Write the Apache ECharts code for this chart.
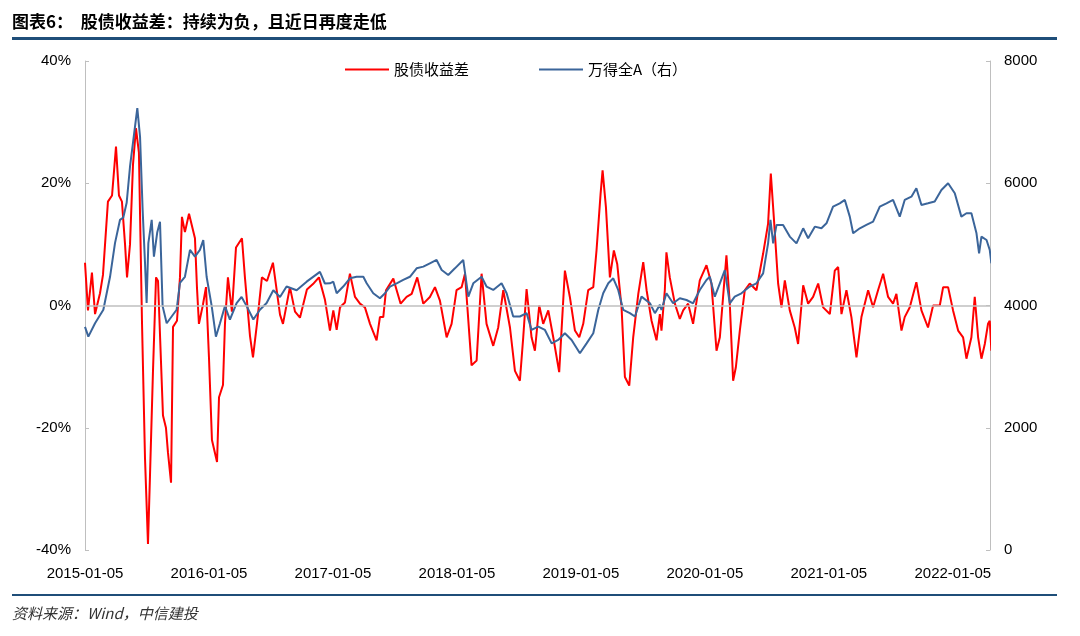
<!DOCTYPE html>
<html>
<head>
<meta charset="utf-8">
<script src="https://cdn.jsdelivr.net/npm/echarts@6/dist/echarts.min.js"></script>
<style>
  body { margin: 0; background: #fff; }
  #title { position: absolute; left: 12px; top: 8px; font: bold 17px "Noto Sans CJK SC"; color: #000; }
  #topline { position: absolute; left: 12px; top: 37px; width: 1045px; height: 3px; background: #1F4E79; }
  #botline { position: absolute; left: 12px; top: 594px; width: 1045px; height: 2px; background: #1F4E79; }
  #source { position: absolute; left: 12px; top: 602px; font: italic 15px "Noto Sans CJK SC"; color: #333; }
  #main { position: absolute; left: 0; top: 0; width: 1080px; height: 636px; }
</style>
</head>
<body>
<div id="main"></div>
<div id="title">图表6：&nbsp;&nbsp;股债收益差：持续为负，且近日再度走低</div>
<div id="topline"></div>
<div id="botline"></div>
<div id="source">资料来源：Wind，中信建投</div>
<script>
// 时间：距 2015-01-05 的年数
const yearLabels = ['2015-01-05', '2016-01-05', '2017-01-05', '2018-01-05', '2019-01-05', '2020-01-05', '2021-01-05', '2022-01-05'];

// 股债收益差 (%)
const spreadT = [0, .024, .056, .081, .121, .145, .185, .218, .25, .274, .298, .323, .339, .363, .387, .411, .435, .46, .484, .508, .524, .548, .573, .589, .629, .653, .669, .694, .71, .742, .766, .782, .806, .839, .887, .903, .919, .952, .976, 1.0, 1.024, 1.065, 1.081, 1.113, 1.129, 1.153, 1.185, 1.218, 1.266, 1.29, 1.331, 1.355, 1.387, 1.427, 1.468, 1.516, 1.573, 1.597, 1.653, 1.694, 1.734, 1.79, 1.839, 1.887, 1.935,
  1.976, 2.003, 2.03, 2.057, 2.097, 2.137, 2.178, 2.218, 2.258, 2.299, 2.352, 2.379, 2.406, 2.428, 2.487, 2.514, 2.546, 2.594, 2.635, 2.68, 2.729, 2.782, 2.823, 2.863, 2.917, 2.957, 2.997, 3.038, 3.065, 3.118, 3.159, 3.199, 3.239, 3.293, 3.333, 3.374, 3.428, 3.468, 3.508, 3.535, 3.562, 3.602, 3.629, 3.664, 3.696, 3.737, 3.777, 3.825, 3.871, 3.911, 3.952, 3.987, 4.019, 4.059, 4.1, 4.126, 4.159, 4.175, 4.202, 4.234, 4.266, 4.293, 4.328, 4.355, 4.39, 4.422, 4.463, 4.503, 4.53, 4.57, 4.61, 4.637,
  4.65, 4.677, 4.69, 4.717, 4.758, 4.798, 4.825, 4.865, 4.905, 4.959, 5.013, 5.053, 5.094, 5.121, 5.147, 5.174, 5.201, 5.228, 5.25, 5.282, 5.322, 5.362, 5.416, 5.47, 5.51, 5.532, 5.556, 5.591, 5.618, 5.645, 5.685, 5.725, 5.752, 5.793, 5.833, 5.873, 5.914, 5.954, 6.008, 6.048, 6.075, 6.102, 6.142, 6.182, 6.223, 6.263, 6.317, 6.357, 6.397, 6.438, 6.478, 6.518, 6.545, 6.586, 6.612, 6.653, 6.706, 6.747, 6.8, 6.841, 6.895, 6.922, 6.962, 7.002, 7.043, 7.083, 7.11, 7.15, 7.177, 7.204, 7.231, 7.258, 7.284, 7.298, 7.311];
const spreadVal = [7, -0.8, 5.4, -1.4, 2, 5, 17, 18, 26, 18, 17, 10, 4.6, 10, 23, 29, 25, -3, -25, -39, -28, -11, 4.6, 4, -18, -20, -24, -29, -3.5, -2.5, 4.6, 14.5, 12, 15, 11, 3, -3, 0.2, 3, -8.5, -22, -25.6, -15, -13, -3, 4.6, -1, 9.5, 11, 4.6, -5, -8.5, -3, 4.6, 4, 7, -1.5, -3, 3, -1, -2, 2.6, 3.5, 4.6, 1,
  -4.1, -0.8, -4, -0.3, 0.5, 5.2, 1.4, 0.3, -0.3, -3, -5.7, -1.9, -1.9, 2.5, 4.4, 2.5, 0.3, 1.4, 1.9, 4.6, 0.3, 1.4, 3, 0.8, -5.2, -3, 2.5, 3, 5.2, -9.8, -9, 5.2, -3, -6.6, -3.6, 2.5, -3.6, -10.7, -12.3, -5.2, 2.7, -5.2, -7.4, 0, -3, -0.8, -5.2, -10.9, 5.7, 1.4, -4.1, -5.2, -3, 2.5, 3, 9, 18.3, 22.1, 16.1, 4.6, 9, 6.8, -0.3, -11.7, -13.1, -5.2, 1.9, 7.1, 2.5, -2.5, -5.7, -1.4,
  -4.1, 2.5, 8.7, 4.6, 0.3, -2.2, -0.8, 0.3, -3, 4.1, 6.6, 3.6, -7.4, -5.2, 1.4, 8.2, 0.3, -12.3, -10.1, -4.1, 2.5, 3.6, 2.5, 8.5, 13.4, 21.6, 14.5, 3.6, -0.3, 4.1, -0.8, -3.6, -6.3, 3.3, 0.3, 1.4, 3.6, -0.3, -1.4, 5.7, 6.3, -1.4, 2.5, -1.9, -8.5, -1.9, 2.5, -0.3, 2.5, 5.2, 1.4, 0.3, 1.9, -4.1, -1.9, -0.3, 3.8, -0.8, -3.6, 0, 0, 3, 3, -0.8, -4.1, -5.2, -8.7, -5.2, 1.4, -5.2, -8.7, -6.3, -3, -2.5, -7.4];

// 万得全A
const indexT = [0, .027, .081, .148, .202, .242, .282, .309, .336, .363, .39, .422, .444, .465, .484, .497, .511, .538, .556, .583, .605, .626, .659, .699, .739, .766, .806, .847, .887, .927, .954, .981, 1.022, 1.056, 1.089, 1.129, 1.169, 1.223, 1.263, 1.304, 1.358, 1.411, 1.465, 1.519, 1.573, 1.626, 1.707, 1.788, 1.895, 1.935,
  1.976, 2.003, 2.03, 2.083, 2.137, 2.191, 2.245, 2.272, 2.325, 2.379, 2.42, 2.46, 2.514, 2.567, 2.621, 2.675, 2.729, 2.782, 2.836, 2.877, 2.93, 2.984, 3.051, 3.092, 3.132, 3.199, 3.239, 3.293, 3.36, 3.401, 3.454, 3.508, 3.562, 3.602, 3.656, 3.71, 3.764, 3.817, 3.871, 3.925, 3.992, 4.046, 4.1, 4.14, 4.18, 4.221, 4.261, 4.301, 4.342, 4.395, 4.436, 4.489, 4.557, 4.597, 4.637,
  4.65, 4.69, 4.744, 4.798, 4.852, 4.905, 4.959, 5.013, 5.04, 5.08, 5.121, 5.161, 5.201, 5.241, 5.295, 5.362, 5.416, 5.47, 5.51, 5.529, 5.551, 5.578, 5.631, 5.685, 5.739, 5.793, 5.833, 5.887, 5.94, 5.981, 6.034, 6.088, 6.129, 6.169, 6.196, 6.25, 6.303, 6.357, 6.411, 6.465, 6.518, 6.572, 6.612, 6.666, 6.706, 6.747, 6.8, 6.854, 6.908, 6.962, 7.016, 7.069, 7.11, 7.15, 7.191, 7.212, 7.231, 7.272, 7.298, 7.311];
const indexVal = [3650, 3490, 3710, 3930, 4470, 5020, 5400, 5440, 5680, 6270, 6710, 7230, 6760, 5560, 4700, 4040, 5020, 5400, 4800, 5200, 5370, 3990, 3710, 3820, 3930, 4370, 4470, 4910, 4800, 4910, 5070, 4470, 3990, 3490, 3710, 3990, 3770, 4040, 4140, 3990, 3770, 3930, 4040, 4250, 4140, 4310, 4250, 4390, 4550, 4360,
  4363, 4390, 4200, 4310, 4445, 4470, 4470, 4363, 4200, 4118, 4200, 4310, 4363, 4418, 4470, 4608, 4636, 4690, 4745, 4580, 4500, 4608, 4745, 4145, 4363, 4470, 4310, 4254, 4363, 4200, 3820, 3820, 3875, 3600, 3655, 3600, 3380, 3436, 3545, 3436, 3218, 3380, 3545, 3927, 4200, 4363, 4445, 4254, 3927, 3875, 3820, 4145, 4036, 3875, 4010,
  3927, 4200, 4036, 4118, 4090, 4036, 4254, 4418, 4470, 4145, 4363, 4580, 4036, 4145, 4200, 4310, 4363, 4526, 5017, 5400, 5017, 5318, 5318, 5127, 5017, 5263, 5100, 5290, 5263, 5345, 5618, 5672, 5727, 5454, 5181, 5263, 5318, 5372, 5618, 5672, 5727, 5454, 5727, 5781, 5918, 5645, 5672, 5700, 5890, 6000, 5836, 5454, 5509, 5509, 5181, 4854, 5127, 5072, 4908, 4690];

const zip = (a, b) => a.map((t, i) => [t, b[i]]);

const chart = echarts.init(document.getElementById('main'));
const font = { fontFamily: 'Liberation Sans', fontSize: 15, color: '#000' };
chart.setOption({
  animation: false,
  grid: { left: 85, right: 90, top: 61, bottom: 86 },
  legend: {
    top: 57, left: 340, itemGap: 70, itemWidth: 44, itemHeight: 2,
    textStyle: { fontFamily: 'Noto Sans CJK SC', fontSize: 15, color: '#000' },
    data: [{ name: '股债收益差', icon: 'rect' }, { name: '万得全A（右）', icon: 'rect' }]
  },
  xAxis: {
    type: 'value', min: 0, max: 7.3, interval: 1,
    axisLine: { show: false }, axisTick: { show: false }, splitLine: { show: false },
    axisLabel: { ...font, margin: 16, showMaxLabel: false, formatter: v => yearLabels[Math.round(v)] || '' }
  },
  yAxis: [{
    type: 'value', min: -40, max: 40, interval: 20,
    axisLine: { show: true, lineStyle: { color: '#bfbfbf' } },
    axisTick: { show: true, inside: true, length: 4, lineStyle: { color: '#bfbfbf' } },
    splitLine: { show: false },
    axisLabel: { ...font, formatter: '{value}%', margin: 14 }
  }, {
    type: 'value', min: 0, max: 8000, interval: 2000,
    axisLine: { show: true, lineStyle: { color: '#bfbfbf' } },
    axisTick: { show: true, inside: true, length: 4, lineStyle: { color: '#bfbfbf' } },
    splitLine: { show: false },
    axisLabel: { ...font, margin: 14, formatter: v => String(v) }
  }],
  series: [{
    name: '股债收益差', type: 'line', yAxisIndex: 0, showSymbol: false, z: 2,
    data: zip(spreadT, spreadVal),
    lineStyle: { color: '#FF0000', width: 2 }, itemStyle: { color: '#FF0000' },
    markLine: {
      silent: true, symbol: 'none', label: { show: false },
      lineStyle: { color: '#bfbfbf', type: 'solid', width: 1.5 },
      data: [{ yAxis: 0 }]
    }
  }, {
    name: '万得全A（右）', type: 'line', yAxisIndex: 1, showSymbol: false, z: 3,
    data: zip(indexT, indexVal),
    lineStyle: { color: '#3B659A', width: 2 }, itemStyle: { color: '#3B659A' }
  }]
});
</script>
</body>
</html>
